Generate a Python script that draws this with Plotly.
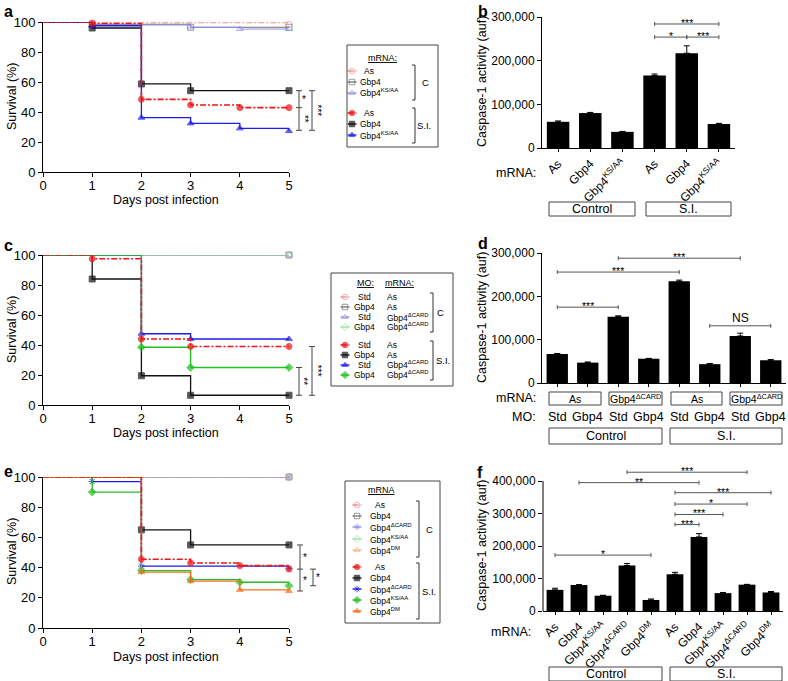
import plotly.graph_objects as go

W, H = 788, 681
FONT = "Liberation Sans, Arial, sans-serif"

# ---------------- DATA ----------------
# Panel a: survival (%) vs days post infection
a_as_c_x = [0, 1, 5];              a_as_c_y = [100, 99.5, 98.5]
a_gbp4_c_x = [0, 1, 3, 5];         a_gbp4_c_y = [100, 98.5, 96.5, 96.5]
a_ks_c_x = [0, 1, 3, 4, 5];        a_ks_c_y = [100, 98, 96.5, 95.3, 95.3]
a_gbp4_si_x = [0, 1, 2, 3, 5];     a_gbp4_si_y = [100, 96, 58.7, 54.2, 54.2]
a_ks_si_x = [0, 1, 2, 3, 4, 5];    a_ks_si_y = [100, 97.5, 36.2, 32.4, 29.1, 27.3]
a_as_si_x = [0, 1, 2, 3, 4, 5];    a_as_si_y = [100, 99, 48.4, 44.7, 42.9, 42.9]

# Panel b: caspase-1 activity
b_labels = ["As", "Gbp4", "Gbp4<sup>KS/AA</sup>", "As", "Gbp4", "Gbp4<sup>KS/AA</sup>"]
b_vals = [60000, 80000, 37000, 166000, 217000, 55000]
b_err = [2000, 1500, 1000, 3500, 17000, 1500]
b_sig = [(3, 5, 284000, "***"), (3, 4, 254000, "*"), (4, 5, 254000, "***")]

# Panel c: survival
c_ctrl_x = [0, 5]
c_std_as_c_y = [100, 100]
c_gbp4_as_c_y = [100, 100]
c_std_dc_c_y = [100, 100]
c_gbp4_dc_c_y = [100, 100]
c_gbp4_as_si_x = [0, 1, 2, 3, 5];  c_gbp4_as_si_y = [100, 84, 19.5, 6.5, 6.5]
c_std_dc_si_x = [0, 2, 3, 5];      c_std_dc_si_y = [100, 47.5, 44, 44]
c_gbp4_dc_si_x = [0, 2, 3, 5];     c_gbp4_dc_si_y = [100, 38.5, 25, 25]
c_std_as_si_x = [0, 1, 2, 3, 5];   c_std_as_si_y = [100, 97.5, 44, 39, 39]

# Panel d
d_mo = ["Std", "Gbp4", "Std", "Gbp4", "Std", "Gbp4", "Std", "Gbp4"]
d_mrna = ["As", "Gbp4<sup>ΔCARD</sup>", "As", "Gbp4<sup>ΔCARD</sup>"]
d_vals = [67000, 47000, 153000, 56000, 235000, 43500, 108500, 52500]
d_err = [1000, 1500, 2000, 800, 2500, 1500, 6500, 1500]
d_sig = [(0, 2, 175000, "***"), (0, 4, 256000, "***"), (2, 6, 288000, "***"), (5, 7, 132000, "NS")]

# Panel e: survival
e_ctrl_x = [0, 5]
e_as_c_y = [100, 100]
e_gbp4_c_y = [100, 100]
e_ks_c_y = [100, 100]
e_dm_c_y = [100, 100]
e_dc_c_y = [100, 100]
e_gbp4_si_x = [0, 2, 3, 5];        e_gbp4_si_y = [100, 65, 55, 55]
e_dc_si_x = [0, 1, 2, 5];          e_dc_si_y = [100, 97, 41, 39.5]
e_ks_si_x = [0, 1, 2, 3, 4, 5];    e_ks_si_y = [100, 90, 38, 32, 30.3, 28]
e_dm_si_x = [0, 2, 3, 4, 5];       e_dm_si_y = [100, 37, 31, 25.2, 24.5]
e_as_si_x = [0, 2, 3, 4, 5];       e_as_si_y = [100, 45.5, 43, 41.3, 39]

# Panel f
f_labels = ["As", "Gbp4", "Gbp4<sup>KS/AA</sup>", "Gbp4<sup>ΔCARD</sup>", "Gbp4<sup>DM</sup>",
            "As", "Gbp4", "Gbp4<sup>KS/AA</sup>", "Gbp4<sup>ΔCARD</sup>", "Gbp4<sup>DM</sup>"]
f_vals = [65000, 80000, 47000, 140000, 34000, 113000, 228000, 55000, 81000, 57000]
f_err = [5000, 1000, 1500, 6000, 3000, 6000, 10000, 2000, 1000, 3000]
f_sig = [(3, 8, 427000, "***"), (1, 6, 395000, "**"), (5, 9, 364000, "***"),
         (5, 8, 329000, "*"), (5, 7, 297000, "***"), (5, 6, 266000, "***"), (0, 4, 172000, "*")]

groups = ["Control", "S.I."]

# ---------------- STYLE / HELPERS ----------------
RED, RED_L = "#f01414", "#f09090"
BLK, GRY = "#111111", "#707070"
BLU, BLU_L = "#1c1cf0", "#9090e8"
GRN, GRN_L = "#22c022", "#96e096"
ORG, ORG_L = "#f5701e", "#f8b37c"
DD = "6px,2px,2px,2px"
SIGC = "#555555"


def X(p):
    return p / W


def Y(p):
    return 1 - p / H


fig = go.Figure()
shapes = []
anns = []


def surv(xs, ys, color, symbol, ax, dash="solid", width=1.3, size=6):
    sizes = [0] + [size] * (len(xs) - 1)
    return go.Scatter(x=xs, y=ys, xaxis="x" + ax, yaxis="y" + ax, mode="lines+markers",
                      line=dict(color=color, width=width, dash=dash, shape="hv"),
                      marker=dict(symbol=symbol, size=sizes, color=color,
                                  line=dict(color=color, width=1)),
                      cliponaxis=False, showlegend=False, hoverinfo="skip")


def txt(x, y, s, size=12, xanchor="center", yanchor="middle", angle=0,
        xref="paper", yref="paper", color="black", bold=False, yshift=0):
    if bold:
        s = "<b>" + s + "</b>"
    anns.append(dict(x=x, y=y, text=s, xref=xref, yref=yref, xanchor=xanchor,
                     yanchor=yanchor, textangle=angle, showarrow=False, yshift=yshift,
                     font=dict(family=FONT, size=size, color=color)))


def seg(x0, y0, x1, y1, xref="paper", yref="paper", color="#333333", w=1):
    shapes.append(dict(type="line", x0=x0, y0=y0, x1=x1, y1=y1, xref=xref, yref=yref,
                       line=dict(color=color, width=w), layer="above"))


def box(px0, py0, px1, py1, color="#444444", w=1):
    shapes.append(dict(type="rect", x0=X(px0), y0=Y(py1), x1=X(px1), y1=Y(py0),
                       xref="paper", yref="paper", line=dict(color=color, width=w),
                       fillcolor="rgba(0,0,0,0)", layer="above"))


def leg_item(xc, py, color, symbol, dash="solid", half=4.5):
    fig.add_trace(go.Scatter(x=[xc - half, xc, xc + half], y=[py, py, py], xaxis="x7", yaxis="y7",
                             mode="lines+markers",
                             line=dict(color=color, width=1.3, dash=dash),
                             marker=dict(symbol=symbol, size=[0, 5.5, 0], color=color,
                                         line=dict(color=color, width=1)),
                             showlegend=False, hoverinfo="skip", cliponaxis=False))


def bracket_leg(px, py0, py1, label, lx):
    seg(X(px), Y(py0), X(px), Y(py1), color="#333333")
    seg(X(px - 3), Y(py0), X(px), Y(py0), color="#333333")
    seg(X(px - 3), Y(py1), X(px), Y(py1), color="#333333")
    txt(X(lx), Y((py0 + py1) / 2), label, size=9.5)


def surv_bracket(ax, px, vals, labels, lab_px):
    yref = "y" + ax
    seg(X(px), vals[0], X(px), vals[-1], yref=yref, color="#444444")
    for v in vals:
        seg(X(px - 3), v, X(px + 3), v, yref=yref, color="#444444")
    for i, lab in enumerate(labels):
        mid = (vals[i] + vals[i + 1]) / 2
        txt(X(lab_px), mid, lab, size=10, yref=yref, angle=90 if len(lab) > 1 else 0,
            xanchor="center")


def bar_sig(ax, sig, upp):
    xr, yr = "x" + ax, "y" + ax
    for i0, i1, lev, lab in sig:
        seg(i0, lev, i1, lev, xref=xr, yref=yr, color=SIGC)
        seg(i0, lev - 2 * upp, i0, lev + 2 * upp, xref=xr, yref=yr, color=SIGC)
        seg(i1, lev - 2 * upp, i1, lev + 2 * upp, xref=xr, yref=yr, color=SIGC)
        if lab == "NS":
            txt((i0 + i1) / 2, lev, lab, size=12, xref=xr, yref=yr, yanchor="bottom", yshift=-1)
        else:
            txt((i0 + i1) / 2, lev, lab, size=10.5, xref=xr, yref=yr, yanchor="middle", yshift=1)


def bars(vals, err, ax):
    n = len(vals)
    return go.Bar(x=list(range(n)), y=vals, xaxis="x" + ax, yaxis="y" + ax, width=0.7,
                  marker=dict(color="black", line=dict(width=0)),
                  error_y=dict(type="data", symmetric=False, array=err, arrayminus=[0] * n,
                               color="black", thickness=1, width=3),
                  showlegend=False, hoverinfo="skip")


# ---------------- PANEL a ----------------
fig.add_trace(surv(a_as_c_x, a_as_c_y, RED_L, "circle-open", "", DD, 1))
fig.add_trace(surv(a_gbp4_c_x, a_gbp4_c_y, GRY, "square-open", "", "solid", 1))
fig.add_trace(surv(a_ks_c_x, a_ks_c_y, BLU_L, "triangle-up-open", "", "solid", 1))
fig.add_trace(surv(a_gbp4_si_x, a_gbp4_si_y, BLK, "square", ""))
fig.add_trace(surv(a_ks_si_x, a_ks_si_y, BLU, "triangle-up", ""))
fig.add_trace(surv(a_as_si_x, a_as_si_y, RED, "circle", "", DD, 1.6))
surv_bracket("", 299, [a_gbp4_si_y[-1], a_as_si_y[-1], a_ks_si_y[-1] + 0.5], ["*", "**"], 304)
surv_bracket("", 312, [a_gbp4_si_y[-1], a_ks_si_y[-1] + 0.5], ["***"], 317)

# ---------------- PANEL c ----------------
fig.add_trace(surv(c_ctrl_x, c_std_as_c_y, RED_L, "circle-open", "3", DD, 1))
fig.add_trace(surv(c_ctrl_x, c_gbp4_as_c_y, GRY, "square-open", "3", "solid", 1))
fig.add_trace(surv(c_ctrl_x, c_std_dc_c_y, BLU_L, "triangle-up-open", "3", "solid", 1))
fig.add_trace(surv(c_ctrl_x, c_gbp4_dc_c_y, GRN_L, "diamond-open", "3", "solid", 1))
fig.add_trace(surv(c_gbp4_as_si_x, c_gbp4_as_si_y, BLK, "square", "3"))
fig.add_trace(surv(c_std_dc_si_x, c_std_dc_si_y, BLU, "triangle-up", "3"))
fig.add_trace(surv(c_gbp4_dc_si_x, c_gbp4_dc_si_y, GRN, "diamond", "3"))
fig.add_trace(surv(c_std_as_si_x, c_std_as_si_y, RED, "circle", "3", DD, 1.6))
surv_bracket("3", 299, [c_gbp4_dc_si_y[-1], c_gbp4_as_si_y[-1]], ["**"], 304)
surv_bracket("3", 312, [c_std_as_si_y[-1], c_gbp4_as_si_y[-1]], ["***"], 317)

# ---------------- PANEL e ----------------
fig.add_trace(surv(e_ctrl_x, e_as_c_y, RED_L, "circle-open", "5", DD, 1))
fig.add_trace(surv(e_ctrl_x, e_gbp4_c_y, GRY, "square-open", "5", "solid", 1))
fig.add_trace(surv(e_ctrl_x, e_ks_c_y, GRN_L, "diamond-open", "5", "solid", 1))
fig.add_trace(surv(e_ctrl_x, e_dm_c_y, ORG_L, "triangle-up-open", "5", "solid", 1))
fig.add_trace(surv(e_ctrl_x, e_dc_c_y, BLU_L, "asterisk-open", "5", "solid", 1))
fig.add_trace(surv(e_gbp4_si_x, e_gbp4_si_y, BLK, "square", "5"))
fig.add_trace(surv(e_dc_si_x, e_dc_si_y, BLU, "asterisk-open", "5"))
fig.add_trace(surv(e_ks_si_x, e_ks_si_y, GRN, "diamond", "5"))
fig.add_trace(surv(e_dm_si_x, e_dm_si_y, ORG, "triangle-up", "5"))
fig.add_trace(surv(e_as_si_x, e_as_si_y, RED, "circle", "5", DD, 1.6))
surv_bracket("5", 300, [e_gbp4_si_y[-1], e_as_si_y[-1], e_dm_si_y[-1]], ["*", "*"], 305)
surv_bracket("5", 313, [e_as_si_y[-1], e_ks_si_y[-1]], [], 318)
txt(X(318), (e_as_si_y[-1] + e_ks_si_y[-1]) / 2, "*", size=10, yref="y5")

# ---------------- BAR PANELS ----------------
fig.add_trace(bars(b_vals, b_err, "2"))
fig.add_trace(bars(d_vals, d_err, "4"))
fig.add_trace(bars(f_vals, f_err, "6"))
bar_sig("2", b_sig, 300000 / 131)
bar_sig("4", d_sig, 300000 / 130)
bar_sig("6", f_sig, 400000 / 130)
# f y-axis line (drawn only up to the top tick)
seg(X(543), 0, X(543), 400000, yref="y6", color="black", w=1)

# ---------------- AXES ----------------
tickfont = dict(family=FONT, size=13, color="black")
common = dict(showline=True, linecolor="black", linewidth=1, ticks="outside", tickcolor="black",
              ticklen=4, showgrid=False, zeroline=False, tickfont=tickfont, automargin=False,
              fixedrange=True)

layout_axes = {}
for xa, ya, ytop, ybot in [("xaxis", "yaxis", 22, 172), ("xaxis3", "yaxis3", 255, 405),
                           ("xaxis5", "yaxis5", 477, 628)]:
    xid = "x" + xa[5:]
    yid = "y" + ya[5:]
    layout_axes[xa] = dict(common, domain=[X(43), X(289)], range=[0, 5], dtick=1, anchor=yid,
                           ticklabelstandoff=-3)
    layout_axes[ya] = dict(common, domain=[Y(ybot), Y(ytop)], range=[0, 100], dtick=20, anchor=xid)

bar_y = dict(common, tickformat=",", tickfont=dict(family=FONT, size=12, color="black"))
bar_x = dict(common, ticklen=3, tickfont=dict(family=FONT, size=12, color="black"))
layout_axes["xaxis2"] = dict(bar_x, domain=[X(542), X(735)], range=[-0.5, 5.5], anchor="y2",
                             tickvals=list(range(6)), ticktext=b_labels, tickangle=-45)
layout_axes["yaxis2"] = dict(bar_y, domain=[Y(148), Y(17)], range=[0, 300000], dtick=100000, anchor="x2")
layout_axes["xaxis4"] = dict(bar_x, domain=[X(542), X(786)], range=[-0.5, 7.5], anchor="y4",
                             tickvals=list(range(8)), showticklabels=False)
layout_axes["yaxis4"] = dict(bar_y, domain=[Y(383), Y(253)], range=[0, 300000], dtick=100000, anchor="x4")
layout_axes["xaxis6"] = dict(bar_x, domain=[X(543), X(783)], range=[-0.5, 9.5], anchor="y6",
                             tickvals=list(range(10)), ticktext=f_labels, tickangle=-45)
layout_axes["yaxis6"] = dict(bar_y, domain=[Y(611), Y(468)], range=[0, 440000], anchor="x6",
                             tickvals=[0, 100000, 200000, 300000, 400000], showline=False)
layout_axes["xaxis7"] = dict(domain=[0, 1], range=[0, W], visible=False, anchor="y7", fixedrange=True)
layout_axes["yaxis7"] = dict(domain=[0, 1], range=[H, 0], visible=False, anchor="x7", fixedrange=True)

# ---------------- TITLES / LETTERS ----------------
for lx, ly, l in [(2, 11, "a"), (476, 11, "b"), (2, 245, "c"), (476, 243, "d"), (2, 471, "e"), (475, 473, "f")]:
    txt(X(lx), Y(ly), l, size=16, xanchor="left", bold=True)
for cy in [97, 330, 552]:
    txt(X(12), Y(cy), "Survival (%)", size=12.5, angle=-90)
for cy in [200, 433, 657]:
    txt(X(166), Y(cy), "Days post infection", size=12.5)
for cy in [82, 318, 546]:
    txt(X(482), Y(cy), "Caspase-1 activity (auf)", size=12.5, angle=-90)

# b labels
txt(X(538), Y(173), "mRNA:", size=12.5, xanchor="right")
box(549, 202, 635, 216); txt(X(592), Y(209), groups[0], size=12.5)
box(646, 202, 731, 216); txt(X(688.5), Y(209), groups[1], size=12.5)

# d labels
txt(X(538), Y(398), "mRNA:", size=12.5, xanchor="right")
txt(X(538), Y(417), "MO:", size=12.5, xanchor="right")
for i, (x0, x1) in enumerate([(549, 601), (609, 662), (671, 722), (730, 782)]):
    box(x0, 392, x1, 405)
    txt(X((x0 + x1) / 2), Y(398.5), d_mrna[i], size=10.5)
for i, m in enumerate(d_mo):
    txt(i, Y(417), m, size=12.5, xref="x4")
box(549, 428, 662, 444); txt(X(605.5), Y(436), groups[0], size=12.5)
box(670, 428, 782, 444); txt(X(726), Y(436), groups[1], size=12.5)

# f labels
txt(X(533), Y(632), "mRNA:", size=12.5, xanchor="right")
box(549, 667, 662, 681); txt(X(605.5), Y(674), groups[0], size=12.5)
box(670, 667, 782, 681); txt(X(726), Y(674), groups[1], size=12.5)

# ---------------- LEGENDS ----------------
LS = 8.5
# legend a
box(347, 45, 438, 147)
txt(X(382), Y(58), "<u>mRNA:</u>", size=LS + 0.5)
leg_a = [("As", RED_L, "circle-open", DD), ("Gbp4", GRY, "square-open", "solid"),
         ("Gbp4<sup>KS/AA</sup>", BLU_L, "triangle-up-open", "solid"),
         ("As", RED, "circle", DD), ("Gbp4", BLK, "square", "solid"),
         ("Gbp4<sup>KS/AA</sup>", BLU, "triangle-up", "solid")]
for (lab, col, sym, dash), ry in zip(leg_a, [71, 82, 93, 113, 124, 135]):
    leg_item(352, ry, col, sym, dash)
    txt(X(362 if lab == "As" else 358), Y(ry), lab, size=LS, xanchor="left")
bracket_leg(415, 65, 100, "C", 425)
bracket_leg(415, 108, 143, "S.I.", 424)

# legend c
box(331, 273, 453, 386)
txt(X(355), Y(283), "<u>MO:</u>", size=LS + 0.5, xanchor="left")
txt(X(383), Y(283), "<u>mRNA:</u>", size=LS + 0.5, xanchor="left")
leg_c = [("Std", "As", RED_L, "circle-open", DD), ("Gbp4", "As", GRY, "square-open", "solid"),
         ("Std", "Gbp4<sup>ΔCARD</sup>", BLU_L, "triangle-up-open", "solid"),
         ("Gbp4", "Gbp4<sup>ΔCARD</sup>", GRN_L, "diamond-open", "solid"),
         ("Std", "As", RED, "circle", DD), ("Gbp4", "As", BLK, "square", "solid"),
         ("Std", "Gbp4<sup>ΔCARD</sup>", BLU, "triangle-up", "solid"),
         ("Gbp4", "Gbp4<sup>ΔCARD</sup>", GRN, "diamond", "solid")]
for (mo, mr, col, sym, dash), ry in zip(leg_c, [297, 307, 317, 327, 345, 355, 365, 375]):
    leg_item(345, ry, col, sym, dash)
    txt(X(356 if mo == "Std" else 352), Y(ry), mo, size=LS, xanchor="left")
    txt(X(385), Y(ry), mr, size=LS, xanchor="left")
bracket_leg(433, 293, 332, "C", 440)
bracket_leg(433, 341, 380, "S.I.", 443)

# legend e
box(345, 481, 440, 623)
txt(X(381), Y(490), "<u>mRNA</u>", size=LS + 0.5)
leg_e = [("As", RED_L, "circle-open", DD), ("Gbp4", GRY, "square-open", "solid"),
         ("Gbp4<sup>ΔCARD</sup>", BLU_L, "asterisk-open", "solid"),
         ("Gbp4<sup>KS/AA</sup>", GRN_L, "diamond-open", "solid"),
         ("Gbp4<sup>DM</sup>", ORG_L, "triangle-up-open", "solid"),
         ("As", RED, "circle", DD), ("Gbp4", BLK, "square", "solid"),
         ("Gbp4<sup>ΔCARD</sup>", BLU, "asterisk-open", "solid"),
         ("Gbp4<sup>KS/AA</sup>", GRN, "diamond", "solid"),
         ("Gbp4<sup>DM</sup>", ORG, "triangle-up", "solid")]
for (lab, col, sym, dash), ry in zip(leg_e, [505, 516, 527, 539, 550, 567, 578, 589, 600, 611]):
    leg_item(357, ry, col, sym, dash)
    txt(X(373 if lab == "As" else 368), Y(ry), lab, size=LS, xanchor="left")
bracket_leg(419, 501, 557, "C", 429)
bracket_leg(419, 563, 619, "S.I.", 429)

fig.update_layout(width=W, height=H, margin=dict(l=0, r=0, t=0, b=0),
                  paper_bgcolor="white", plot_bgcolor="rgba(0,0,0,0)",
                  font=dict(family=FONT, color="black"), showlegend=False,
                  shapes=shapes, annotations=anns, bargap=0.3, **layout_axes)

fig.write_html("out.html", config={"displayModeBar": False},
               post_script="document.body.style.margin='0';document.body.style.padding='0';"
                           "document.documentElement.style.overflow='hidden';")
